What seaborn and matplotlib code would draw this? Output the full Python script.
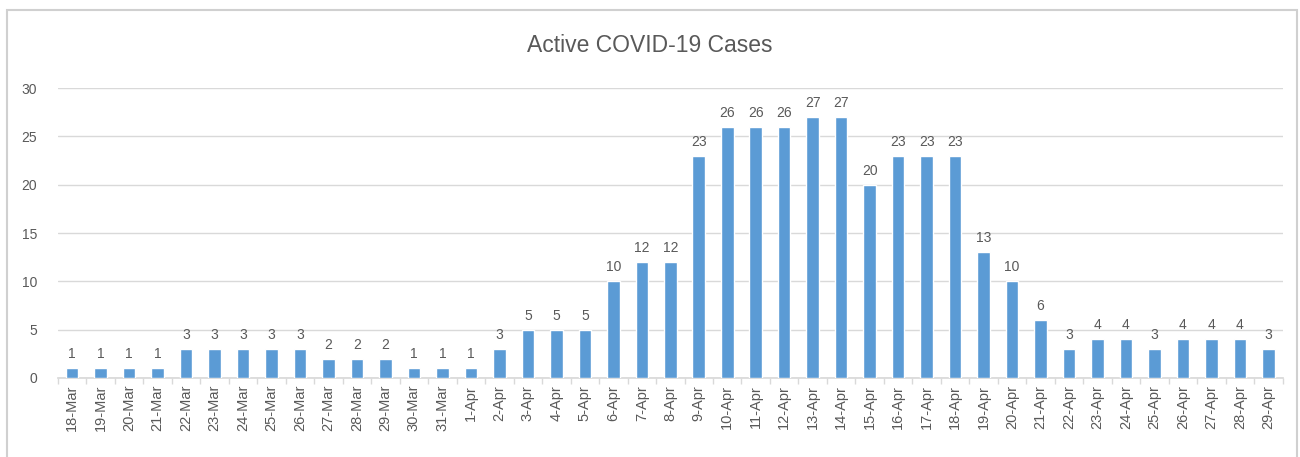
import matplotlib
matplotlib.use("Agg")
import matplotlib.pyplot as plt
from matplotlib.patches import Rectangle
import pandas as pd
import seaborn as sns

dates = [f"{d}-Mar" for d in range(18, 32)] + [f"{d}-Apr" for d in range(1, 30)]
cases = [1, 1, 1, 1, 3, 3, 3, 3, 3, 2, 2, 2, 1, 1,
         1, 3, 5, 5, 5, 10, 12, 12, 23, 26, 26, 26, 27, 27, 20, 23, 23, 23,
         13, 10, 6, 3, 4, 4, 3, 4, 4, 4, 3]

df = pd.DataFrame({"date": dates, "cases": cases})

sns.set_theme(style="white")
plt.rcParams['font.family'] = ['Liberation Sans', 'DejaVu Sans']
text_col = "#595959"

fig = plt.figure(figsize=(13, 4.57), dpi=100)
ax = fig.add_axes([0.0446, 0.173, 0.942, 0.634])

sns.barplot(data=df, x="date", y="cases", color="#5B9BD5", width=0.44,
            saturation=1, ax=ax, zorder=3)

ax.set_ylim(0, 30)
ax.set_yticks([0, 5, 10, 15, 20, 25, 30])
ax.set_xlim(-0.5, len(dates) - 0.5)
ax.grid(axis="y", color="#D9D9D9", linewidth=1, zorder=0)
for s in ["top", "right", "left"]:
    ax.spines[s].set_visible(False)
ax.spines["bottom"].set_color("#D9D9D9")
ax.set_xlabel("")
ax.set_ylabel("")
ax.tick_params(axis="y", length=0, labelsize=10, labelcolor=text_col, pad=15)
ax.tick_params(axis="x", length=0, labelsize=10.5, labelcolor=text_col, rotation=90, pad=5)

# small category-boundary ticks like Excel
ax.set_xticks([i - 0.5 for i in range(len(dates) + 1)], minor=True)
ax.tick_params(axis="x", which="minor", length=4, color="#D9D9D9", bottom=True)

ax.bar_label(ax.containers[0], labels=[str(v) for v in cases], padding=5,
             fontsize=10, color=text_col)

fig.text(0.5, 0.9, "Active COVID-19 Cases", ha="center", va="center",
         fontsize=16.5, color=text_col)

fig.patches.append(Rectangle((0.005, -0.05), 0.993, 1.028, transform=fig.transFigure,
                             fill=False, edgecolor="#D0D0D0", linewidth=1.5))

fig.savefig("out.png", dpi=100)
